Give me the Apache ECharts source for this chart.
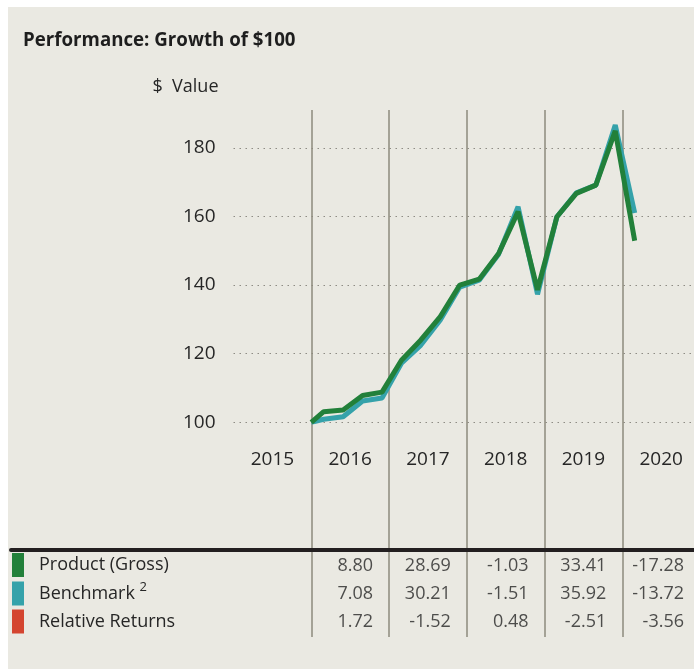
<!DOCTYPE html>
<html>
<head>
<meta charset="utf-8">
<script src="https://cdn.jsdelivr.net/npm/echarts@6/dist/echarts.min.js"></script>
<style>
  html, body { margin: 0; padding: 0; background: #fff; }
  #chart {
    width: 694px;
    height: 669px;
    background: #eae9e2;
    box-shadow: inset 8px 7px 0 #fff;
  }
</style>
</head>
<body>
<div id="chart"></div>
<script>
var rowNames = ['Product (Gross)', 'Benchmark', 'Relative Returns'];
var rowColors = ['#22803a', '#35a2aa', '#d44530'];

// point dates as decimal years
var dates = [2016.00, 2016.16, 2016.41, 2016.66, 2016.91, 2017.16, 2017.41, 2017.66, 2017.91,
  2018.16, 2018.41, 2018.66, 2018.91, 2019.16, 2019.41, 2019.66, 2019.91, 2020.16];
var product = [100, 103.1, 103.6, 107.8, 108.8, 118.1, 124.0, 130.8, 140.0,
  141.7, 149.2, 161.4, 138.6, 159.9, 166.7, 169.1, 184.9, 152.9];
var benchmark = [100, 100.9, 101.6, 106.2, 107.1, 117.2, 122.5, 129.8, 139.4,
  141.4, 149.0, 162.8, 137.3, 159.9, 166.9, 169.1, 186.6, 161.0];

// annual returns table
var tableYears = [2016, 2017, 2018, 2019, 2020];
var productReturns = ['8.80', '28.69', '-1.03', '33.41', '-17.28'];
var benchmarkReturns = ['7.08', '30.21', '-1.51', '35.92', '-13.72'];
var relativeReturns = ['1.72', '-1.52', '0.48', '-2.51', '-3.56'];

var yMin = 100, yStep = 20;

var FONT = 'Open Sans';
var TXT = '#262626';
var YEAR_PX = 77.75;          // width of one year on the x axis
var X_MIN = 2015, X_MAX = 2015 + 460.5 / YEAR_PX;

function pairs(xs, ys) {
  return xs.map(function (x, i) { return [x, ys[i]]; });
}

function tableSeries(name, vals, row) {
  return {
    name: name,
    type: 'scatter',
    xAxisIndex: 2,
    yAxisIndex: 2,
    symbolSize: 1,
    color: rowColors[row],
    itemStyle: { color: 'rgba(0,0,0,0)' },
    silent: true,
    label: {
      show: true,
      position: 'inside',
      align: 'right',
      offset: [YEAR_PX / 2 - 16, 2],
      fontFamily: FONT,
      fontSize: 18,
      color: TXT,
      formatter: function (p) { return p.value[2]; }
    },
    data: tableYears.map(function (y, i) { return [y + 0.5, row, vals[i]]; })
  };
}

var chart = echarts.init(document.getElementById('chart'));

chart.setOption({
  animation: false,
  textStyle: { fontFamily: FONT },
  title: {
    text: 'Performance: Growth of $100',
    left: 23,
    top: 31,
    padding: 0,
    textStyle: { fontFamily: FONT, fontSize: 18.7, fontWeight: 'bold', color: '#1e1e1e' }
  },
  legend: {
    orient: 'vertical',
    left: 12,
    top: 553,
    padding: 0,
    icon: 'rect',
    itemWidth: 12,
    itemHeight: 24,
    itemGap: 4,
    selectedMode: false,
    textStyle: {
      fontFamily: FONT,
      fontSize: 18,
      color: TXT,
      padding: [0, 0, 0, 10],
      rich: {
        sup: { fontSize: 13, fontFamily: FONT, color: TXT, padding: [0, 0, 12, 0] }
      }
    },
    formatter: function (name) {
      return name === 'Benchmark' ? 'Benchmark {sup|2}' : name;
    },
    data: rowNames.map(function (n, i) {
      return { name: n, itemStyle: { color: rowColors[i], opacity: 1 } };
    })
  },
  grid: [
    { left: 233.5, right: 0, top: 110, bottom: 246.7 },
    { left: 233.5, right: 0, top: 110, bottom: 32 },
    { left: 11, right: 0, top: 549.5, height: 84 }
  ],
  xAxis: [
    {
      gridIndex: 0,
      type: 'value',
      min: X_MIN,
      max: X_MAX,
      interval: 1,
      axisLine: { show: false },
      axisTick: { show: false },
      splitLine: { show: false },
      axisLabel: {
        align: 'left',
        margin: 28,
        showMaxLabel: false,
        formatter: function (v) { return '{y|' + v + '}'; },
        rich: { y: { width: YEAR_PX, align: 'center', fontFamily: FONT, fontSize: 19, color: TXT } }
      }
    },
    {
      gridIndex: 1,
      type: 'value',
      min: X_MIN,
      max: X_MAX,
      interval: 1,
      axisLine: { show: false },
      axisTick: { show: false },
      axisLabel: { show: false },
      splitLine: {
        show: true,
        showMinLine: false,
        showMaxLine: false,
        lineStyle: { color: '#8c8a7c', width: 1.5 }
      }
    },
    {
      gridIndex: 2,
      type: 'value',
      position: 'top',
      min: X_MIN - (233.5 - 11) / YEAR_PX,
      max: X_MAX,
      axisLine: { show: true, onZero: false, lineStyle: { color: '#231f20', width: 4 } },
      axisTick: { show: false },
      axisLabel: { show: false },
      splitLine: { show: false }
    }
  ],
  yAxis: [
    {
      gridIndex: 0,
      type: 'value',
      min: yMin,
      max: 191,
      interval: yStep,
      name: '$  Value',
      nameLocation: 'end',
      nameGap: 14,
      nameTextStyle: { fontFamily: FONT, fontSize: 18, color: TXT, align: 'right', padding: [0, 15, 0, 0] },
      axisLine: { show: false },
      axisTick: { show: false },
      axisLabel: { fontFamily: FONT, fontSize: 19, color: TXT, margin: 18, showMaxLabel: false },
      splitLine: {
        show: true,
        showMaxLine: false,
        lineStyle: { color: '#8e8c84', width: 1.2, type: [1.5, 4.5] }
      }
    },
    { gridIndex: 1, type: 'value', show: false },
    {
      gridIndex: 2,
      type: 'category',
      data: rowNames,
      inverse: true,
      show: false
    }
  ],
  series: [
    {
      name: 'Benchmark',
      type: 'line',
      xAxisIndex: 0,
      yAxisIndex: 0,
      symbol: 'none',
      color: rowColors[1],
      lineStyle: { color: rowColors[1], width: 5 },
      data: pairs(dates, benchmark)
    },
    {
      name: 'Product (Gross)',
      type: 'line',
      xAxisIndex: 0,
      yAxisIndex: 0,
      symbol: 'none',
      color: rowColors[0],
      lineStyle: { color: rowColors[0], width: 5 },
      data: pairs(dates, product)
    },
    tableSeries('Product (Gross)', productReturns, 0),
    tableSeries('Benchmark', benchmarkReturns, 1),
    tableSeries('Relative Returns', relativeReturns, 2)
  ]
});
</script>
</body>
</html>
